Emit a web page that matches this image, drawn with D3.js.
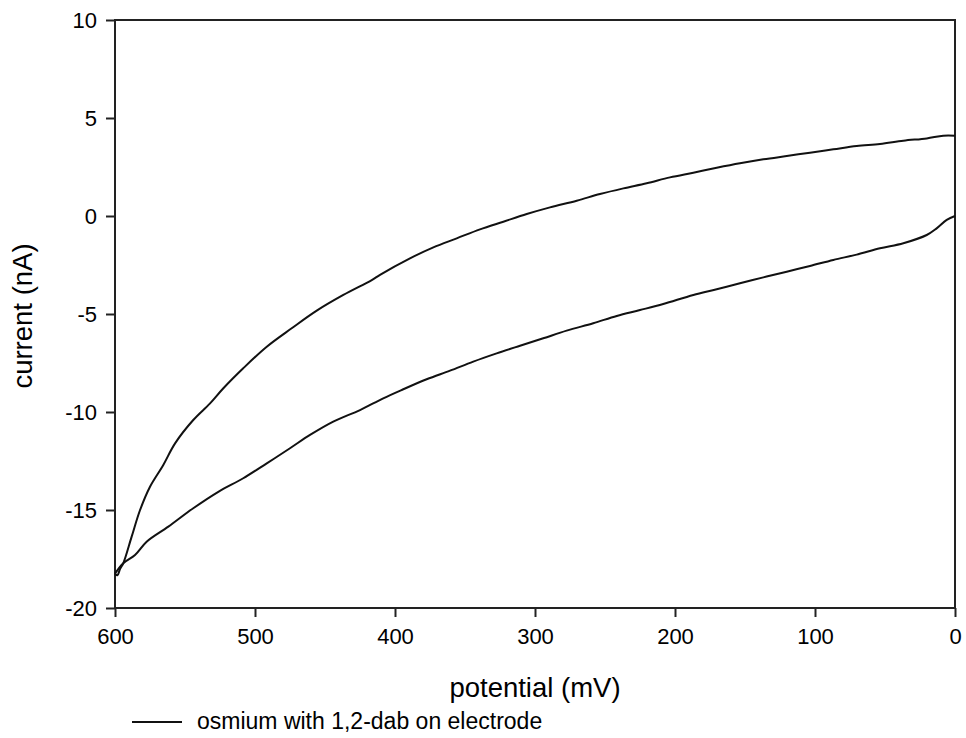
<!DOCTYPE html>
<html>
<head>
<meta charset="utf-8">
<script src="https://cdn.jsdelivr.net/npm/d3@7/dist/d3.min.js"></script>
<style>
  html, body { margin: 0; padding: 0; background: #fff; }
  svg { display: block; font-family: Arial, "Liberation Sans", sans-serif; }
</style>
</head>
<body>
<svg id="chart" width="966" height="738"></svg>
<script>
// Cyclic voltammogram: current (nA) vs potential (mV)
const xTicks = [600, 500, 400, 300, 200, 100, 0];
const yTicks = [10, 5, 0, -5, -10, -15, -20];

// Upper branch, [potential mV, current nA]
const upperBranch = [
  [600, -18.25], [598.3, -18.33], [596.4, -18.01], [594.1, -17.72], [588.1, -16.36],
  [582.1, -15.0], [575, -13.81], [565.5, -12.70], [557.1, -11.60], [544.1, -10.41],
  [532.1, -9.56], [522.6, -8.79], [508.4, -7.77], [491.6, -6.67], [473.8, -5.73],
  [455.9, -4.83], [436.9, -4.03], [416.6, -3.27], [410.7, -3.00], [389.3, -2.16],
  [372.6, -1.60], [355.9, -1.14], [339.3, -0.68], [322.6, -0.29], [305.9, 0.10],
  [289.3, 0.44], [270.2, 0.78], [253.6, 1.12], [236.9, 1.41], [220.2, 1.67],
  [203.6, 1.97], [186.9, 2.21], [170.2, 2.46], [153.6, 2.69], [136.9, 2.89],
  [120.2, 3.06], [103.6, 3.23], [86.9, 3.40], [70.2, 3.57], [53.6, 3.67],
  [36.9, 3.84], [20.2, 3.96], [8.4, 4.10], [0, 4.10]
];

// Lower branch, [potential mV, current nA]
const lowerBranch = [
  [600, -18.25], [594.1, -17.72], [585.7, -17.30], [577.4, -16.62], [561.9, -15.85],
  [544.1, -14.91], [526.2, -14.07], [508.4, -13.38], [491.6, -12.62], [475, -11.85],
  [460.7, -11.17], [444.1, -10.49], [425, -9.90], [408.4, -9.30], [394.1, -8.84],
  [377.4, -8.33], [360.7, -7.89], [344.1, -7.43], [327.4, -7.01], [310.7, -6.62],
  [294.1, -6.24], [277.4, -5.85], [258.4, -5.47], [241.6, -5.10], [225, -4.80],
  [208.4, -4.49], [186.9, -4.03], [170.2, -3.74], [153.6, -3.43], [136.9, -3.13],
  [120.2, -2.84], [103.6, -2.55], [86.9, -2.24], [70.2, -1.97], [53.6, -1.65],
  [36.9, -1.39], [20.2, -0.97], [13.1, -0.63], [5.9, -0.20], [0, 0]
];

const legendLabel = "osmium with 1,2-dab on electrode";
const xTitle = "potential (mV)";
const yTitle = "current (nA)";

const svg = d3.select("#chart");
const plotLeft = 115, plotRight = 955, plotTop = 20, plotBottom = 608;

const x = d3.scaleLinear().domain([600, 0]).range([plotLeft, plotRight]);
const y = d3.scaleLinear().domain([-20, 10]).range([plotBottom, plotTop]);

// plain hyphen-minus for negative tick labels
const tickText = d => String(d);

// frame
svg.append("rect")
  .attr("x", plotLeft).attr("y", plotTop)
  .attr("width", plotRight - plotLeft).attr("height", plotBottom - plotTop)
  .attr("fill", "none").attr("stroke", "#222").attr("stroke-width", 2);

// y axis
const yAxis = svg.append("g")
  .attr("transform", `translate(${plotLeft},0)`)
  .call(d3.axisLeft(y).tickValues(yTicks).tickSize(9).tickPadding(9).tickFormat(tickText));
yAxis.select(".domain").remove();
yAxis.selectAll("line").attr("stroke", "#222").attr("stroke-width", 2);
yAxis.selectAll("text").attr("font-size", 22).attr("fill", "#000")
  .attr("font-family", "Arial, 'Liberation Sans', sans-serif");

// x axis
const xAxis = svg.append("g")
  .attr("transform", `translate(0,${plotBottom})`)
  .call(d3.axisBottom(x).tickValues(xTicks).tickSize(9).tickPadding(11).tickFormat(tickText));
xAxis.select(".domain").remove();
xAxis.selectAll("line").attr("stroke", "#222").attr("stroke-width", 2);
xAxis.selectAll("text").attr("font-size", 22).attr("fill", "#000")
  .attr("font-family", "Arial, 'Liberation Sans', sans-serif");

// curves
const line = d3.line()
  .x(d => x(d[0]))
  .y(d => y(d[1]))
  .curve(d3.curveCatmullRom.alpha(0.5));

[upperBranch, lowerBranch].forEach(series => {
  svg.append("path")
    .datum(series)
    .attr("d", line)
    .attr("fill", "none")
    .attr("stroke", "#111")
    .attr("stroke-width", 2)
    .attr("stroke-linejoin", "round");
});

// axis titles
svg.append("text")
  .attr("x", (plotLeft + plotRight) / 2).attr("y", 697)
  .attr("text-anchor", "middle")
  .attr("font-size", 27.5)
  .text(xTitle);

svg.append("text")
  .attr("transform", `translate(32,316) rotate(-90)`)
  .attr("text-anchor", "middle")
  .attr("font-size", 27.5)
  .text(yTitle);

// legend
svg.append("line")
  .attr("x1", 132).attr("x2", 182)
  .attr("y1", 722).attr("y2", 722)
  .attr("stroke", "#111").attr("stroke-width", 2);
svg.append("text")
  .attr("x", 197).attr("y", 729)
  .attr("font-size", 23)
  .text(legendLabel);
</script>
</body>
</html>
